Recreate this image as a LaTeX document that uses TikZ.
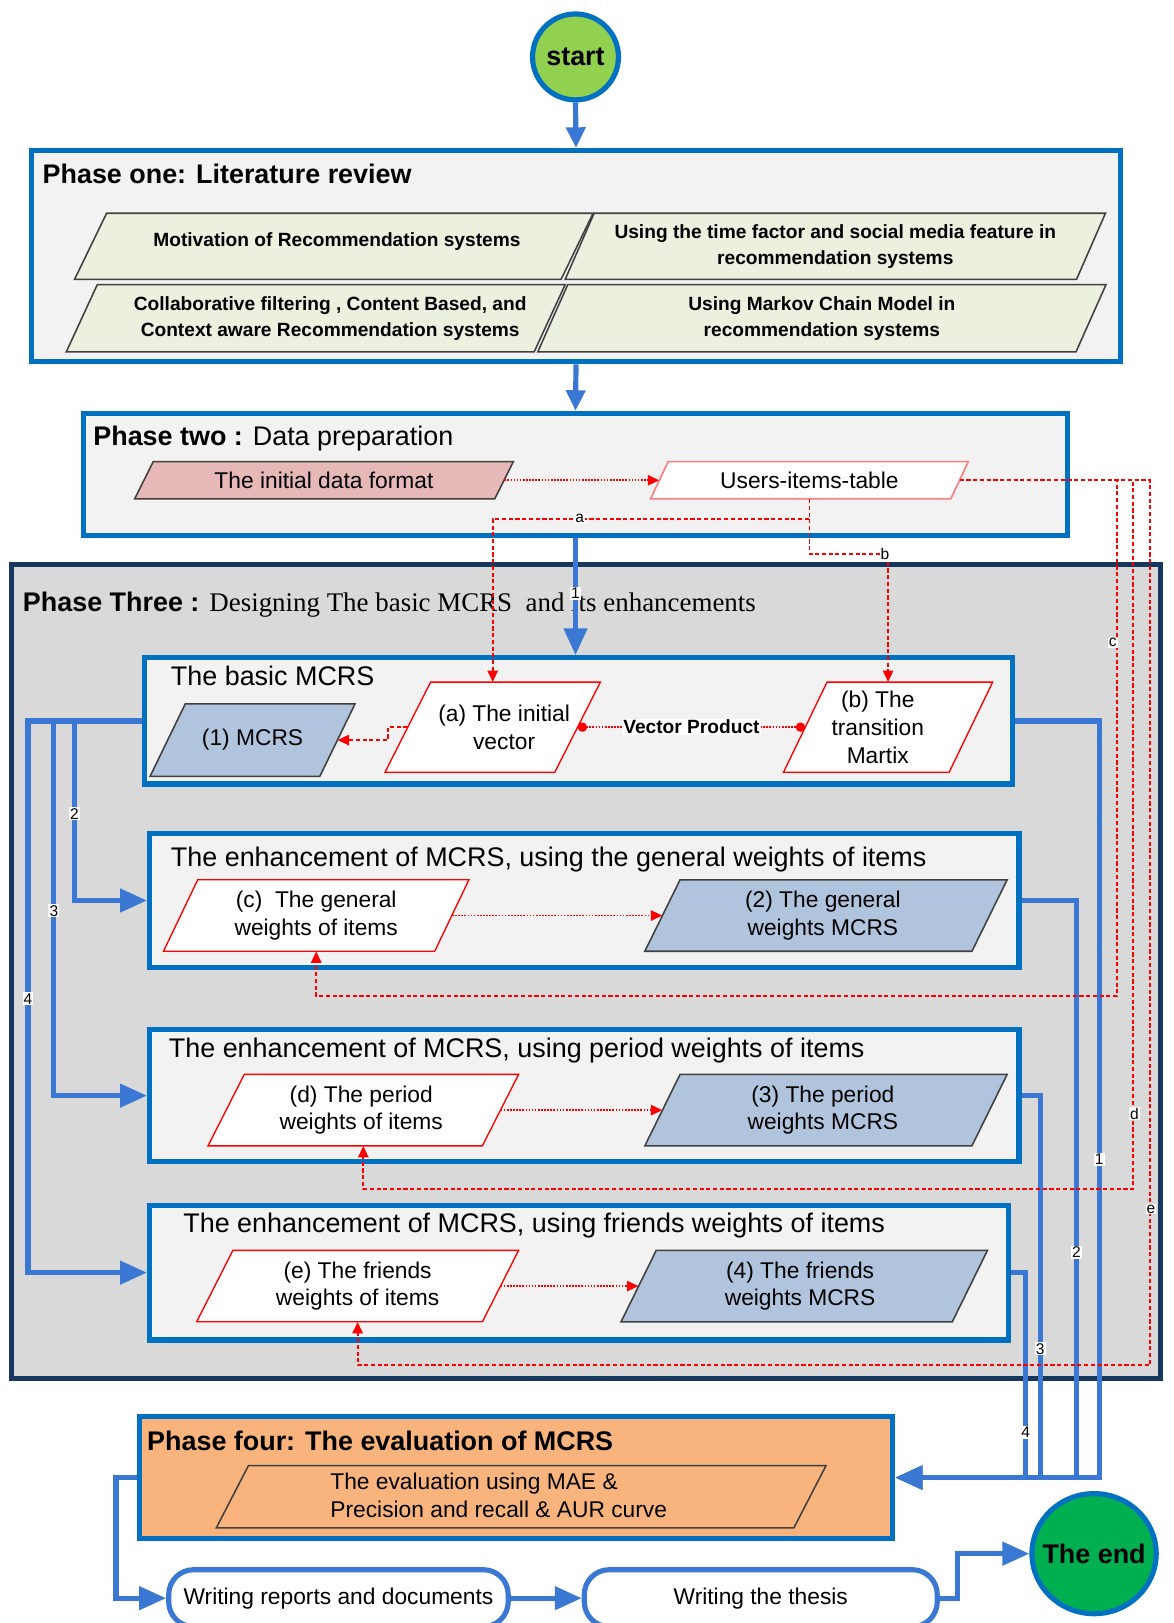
\documentclass[tikz,border=0pt]{standalone}
\usepackage{fontspec}
\setmainfont{Liberation Sans}
\newfontfamily\timesfont{Liberation Serif}
\usetikzlibrary{arrows.meta,shapes.geometric,calc}

\definecolor{boxblue}{RGB}{0,112,192}
\definecolor{linkblue}{RGB}{58,120,212}
\definecolor{navy}{RGB}{23,55,94}
\definecolor{panelgray}{RGB}{217,217,217}
\definecolor{paneltint}{RGB}{242,242,242}
\definecolor{litgreen}{RGB}{235,241,222}
\definecolor{rosefill}{RGB}{230,185,184}
\definecolor{steelfill}{RGB}{176,196,222}
\definecolor{peach}{RGB}{248,180,124}
\definecolor{softred}{RGB}{255,124,128}
\definecolor{startgreen}{RGB}{146,208,80}
\definecolor{endgreen}{RGB}{0,176,80}
\definecolor{edgegray}{RGB}{64,64,64}

\newcommand\ttlfont{\fontsize{26}{31}\selectfont}
\newcommand\boxfont{\fontsize{22}{27}\selectfont}
\newcommand\litfont{\fontsize{18.5}{25.5}\selectfont\bfseries}
\newcommand\lblfont{\fontsize{15}{17}\selectfont}

% parallelogram: outline style, name, cx, cy, width, height, skew, text options, text
\newcommand\plg[9]{%
  \path[#1] (#3-#5/2+#7/2,#4-#6/2) -- (#3+#5/2+#7/2,#4-#6/2)
     -- (#3+#5/2-#7/2,#4+#6/2) -- (#3-#5/2-#7/2,#4+#6/2) -- cycle;
  \node[inner sep=0pt, minimum width=#5, minimum height=#6] (#2) at (#3,#4) {};
  \node[plgtext, #8] (#2-t) at (#2) {#9};
}

\begin{document}
\begin{tikzpicture}[x=1pt,y=-1pt,
  panel/.style={draw=boxblue, line width=5pt, fill=paneltint, inner sep=0pt},
  plgtext/.style={align=center, inner sep=0pt, font=\boxfont},
  litbox/.style={draw=edgegray, line width=1.5pt, fill=litgreen},
  darkbox/.style={draw=edgegray, line width=1.5pt},
  redbox/.style={draw=red, line width=1.3pt, fill=white},
  blink/.style={draw=linkblue, line width=5pt},
  bigtip/.style={-{Triangle[length=26pt,width=22pt]}},
  smalltip/.style={-{Triangle[length=20pt,width=18pt]}},
  redlink/.style={draw=red, line width=1.8pt, dash pattern=on 4pt off 2.5pt,
    -{Triangle[length=11pt,width=10pt]}},
  reddot/.style={draw=red, line width=1.6pt, dash pattern=on 1.6pt off 1.4pt},
  lbl/.style={fill=white, inner sep=1pt, font=\lblfont},
  termbox/.style={draw=linkblue, line width=5pt, fill=white, rounded corners=24pt,
    inner sep=0pt, font=\boxfont}
]
\useasboundingbox (0,0) rectangle (1134,1568);
\fill[white] (0,0) rectangle (1134,1568);

% start
\node[circle, draw=boxblue, line width=5pt, fill=startgreen, minimum size=83pt,
  inner sep=0pt, font=\ttlfont\bfseries] (start) at (556,55) {start};

% Phase one
\node[panel, minimum width=1052, minimum height=204] (p1) at (556.5,247.5) {};
\node[anchor=base west, inner sep=0pt, font=\ttlfont\bfseries] (p1t) at (41,177)
  {Phase one: Literature review};
\plg{litbox}{mot}{322.5}{238}{470}{64}{31}{font=\litfont, xshift=3pt, yshift=5pt}
  {Motivation of Recommendation systems}
\plg{litbox}{time}{807}{238}{494}{64}{28}{font=\litfont}
  {Using the time factor and social media feature in\\recommendation systems}
\plg{litbox}{col}{305}{307.5}{452}{65}{30}{font=\litfont, xshift=14pt}
  {Collaborative filtering , Content Based, and\\Context aware Recommendation systems}
\plg{litbox}{mkv}{794}{307.5}{520}{65}{29}{font=\litfont}
  {Using Markov Chain Model in\\recommendation systems}

% Phase two
\node[panel, minimum width=951, minimum height=118] (p2) at (556,458.5) {};
\node[anchor=base west, inner sep=0pt, font=\ttlfont] (p2t) at (90,430)
  {\textbf{Phase two :} Data preparation};
\plg{darkbox, fill=rosefill}{idf}{313}{464}{348}{36}{18}{}{The initial data format}
\plg{draw=softred, line width=1.6pt, fill=white}{uit}{782}{464}{290}{36}{17}{}{Users-items-table}

% Phase three
\node[draw=navy, line width=5pt, fill=panelgray, minimum width=1110, minimum height=786,
  inner sep=0pt] (p3) at (566.5,938.5) {};
\node[anchor=base west, inner sep=0pt, font=\ttlfont] (p3t) at (22,591)
  {\textbf{Phase Three :} {\timesfont Designing The basic MCRS\ \ and its enhancements}};

% basic MCRS
\node[panel, minimum width=839, minimum height=122] (basic) at (559,696.5) {};
\node[anchor=base west, inner sep=0pt, font=\ttlfont] (basict) at (165,662) {The basic MCRS};
\plg{darkbox, fill=steelfill}{mcrs}{244}{715}{164}{70}{34}{}{(1) MCRS}
\plg{redbox}{iv}{476}{702.5}{164}{87}{44}{xshift=11pt}{(a) The initial\\vector}
\plg{redbox}{tm}{858}{702.5}{160}{87}{42}{xshift=-10pt}{(b) The\\transition\\Martix}

% enhancement with general weights
\node[panel, minimum width=840, minimum height=129] (enh1) at (564.5,870) {};
\node[anchor=base west, inner sep=0pt, font=\ttlfont] (enh1t) at (165,837)
  {The enhancement of MCRS, using the general weights of items};
\plg{redbox}{gw}{305.5}{884.5}{262}{69}{33}{}{(c)\ \ The general\\weights of items}
\plg{darkbox, fill=steelfill}{gm}{798}{884.5}{316}{69}{34}{xshift=-3pt}{(2) The general\\weights MCRS}

% enhancement with period weights
\node[panel, minimum width=840, minimum height=128] (enh2) at (564.5,1058.5) {};
\node[anchor=base west, inner sep=0pt, font=\ttlfont] (enh2t) at (163,1022)
  {The enhancement of MCRS, using period weights of items};
\plg{redbox}{pw}{351}{1072.5}{265}{69}{35}{xshift=-2pt}{(d) The period\\weights of items}
\plg{darkbox, fill=steelfill}{pm}{798}{1072.5}{316}{69}{34}{xshift=-3pt}{(3) The period\\weights MCRS}

% enhancement with friends weights
\node[panel, minimum width=830, minimum height=130] (enh3) at (559.5,1229.5) {};
\node[anchor=base west, inner sep=0pt, font=\ttlfont] (enh3t) at (177,1191)
  {The enhancement of MCRS, using friends weights of items};
\plg{redbox}{fw}{345.5}{1242.5}{276}{69}{35}{}{(e) The friends\\weights of items}
\plg{darkbox, fill=steelfill}{fm}{777}{1242.5}{320}{69}{34}{xshift=-4pt}{(4) The friends\\weights MCRS}

% Phase four
\node[draw=boxblue, line width=5pt, fill=peach, minimum width=728, minimum height=118,
  inner sep=0pt] (p4) at (498.5,1427.5) {};
\node[anchor=base west, inner sep=0pt, font=\ttlfont\bfseries] (p4t) at (142,1401)
  {Phase four: The evaluation of MCRS};
\plg{darkbox, fill=peach}{ev}{503.5}{1446}{558}{60}{31}{}{}
\node[anchor=west, align=left, inner sep=0pt, font=\boxfont] (evt) at (319,1445)
  {The evaluation using MAE \&\\Precision and recall \& AUR curve};

% closing steps
\node[termbox, minimum width=328, minimum height=55] (rep) at (327,1544)
  {\raisebox{3pt}{Writing reports and documents}};
\node[termbox, minimum width=341, minimum height=55] (thesis) at (735,1544)
  {\raisebox{3pt}{Writing the thesis}};
\node[ellipse, draw=boxblue, line width=5pt, fill=endgreen, minimum width=120pt,
  minimum height=116pt, inner sep=0pt] (end) at (1057,1501) {};
\node[inner sep=0pt, font=\ttlfont\bfseries] (endt) at (end) {The end};

% main flow
\draw[blink, smalltip] (start.south) -- (p1.north);
\draw[blink, smalltip] (p1.south) -- (p2.north);
\draw[blink, bigtip] (p2.south) -- (p2.south |- basic.north)
  node[pos=0.47, lbl] (n1) {1};

% from the basic model to the enhancements
\draw[blink, bigtip] (basic.west) -| (72,870) -- (enh1.west);
\draw[blink, bigtip] (basic.west) -| (52,1058.5) -- (enh2.west);
\draw[blink, bigtip] (basic.west) -| (27,1229.5) -- (enh3.west);
\node[lbl] (m2) at (72,786) {2};
\node[lbl] (m3) at (52,880) {3};
\node[lbl] (m4) at (27,965) {4};

% from every model to the evaluation
\draw[blink, bigtip] (basic.east) -| (1062,1427.5) -- (p4.east);
\draw[blink, bigtip] (enh1.east) -| (1040,1427.5) -- (p4.east);
\draw[blink, bigtip] (enh2.east) -| (1005,1427.5) -- (p4.east);
\draw[blink, bigtip] (enh3.east) -| (991,1427.5) -- (p4.east);
\node[lbl] (r1) at (1062,1120) {1};
\node[lbl] (r2) at (1040,1210) {2};
\node[lbl] (r3) at (1005,1303) {3};
\node[lbl] (r4) at (991,1384) {4};

% reporting
\draw[blink, bigtip] (p4.west) -- ++(-20,0) |- (rep.west);
\draw[blink, bigtip] (rep.east) -- (thesis.west);
\draw[blink, bigtip] (thesis.east) -- ++(17,0) |- (end.west);

% data flow inside the phases
\draw[reddot, -{Triangle[length=11pt,width=10pt]}] (idf.east) -- (uit.west);
\draw[redlink] (uit.south) -- ++(0,19) -| (iv.north);
\draw[redlink] (uit.south) -- ++(0,53) -| (tm.north);
\node[lbl] (la) at (560,501) {a};
\node[lbl] (lb) at (855,535) {b};
\draw[reddot, {Circle[length=9pt]}-{Circle[length=9pt]}] (iv.east) --
  node[fill=white, inner sep=1pt, font=\fontsize{18.5}{22}\selectfont\bfseries] (vp) {Vector Product}
  (tm.west);
\draw[redlink] (iv.west) -- ++(-19,0) |- (mcrs.east);
\draw[reddot, -{Triangle[length=11pt,width=10pt]}] (gw.east) -- (gm.west);
\draw[reddot, -{Triangle[length=11pt,width=10pt]}] (pw.east) -- (pm.west);
\draw[reddot, -{Triangle[length=11pt,width=10pt]}] (fw.east) -- (fm.west);

% weights fed from the users-items table
\draw[redlink] (uit.east) -| (1079,962.5) -| (gw.south);
\draw[redlink] (uit.east) -| (1095,1148.5) -| (pw.south);
\draw[redlink] (uit.east) -| (1111,1319) -| (fw.south);
\node[lbl] (lc) at (1075,621) {c};
\node[lbl] (ld) at (1096,1076) {d};
\node[lbl] (le) at (1112,1168) {e};
\end{tikzpicture}
\end{document}
